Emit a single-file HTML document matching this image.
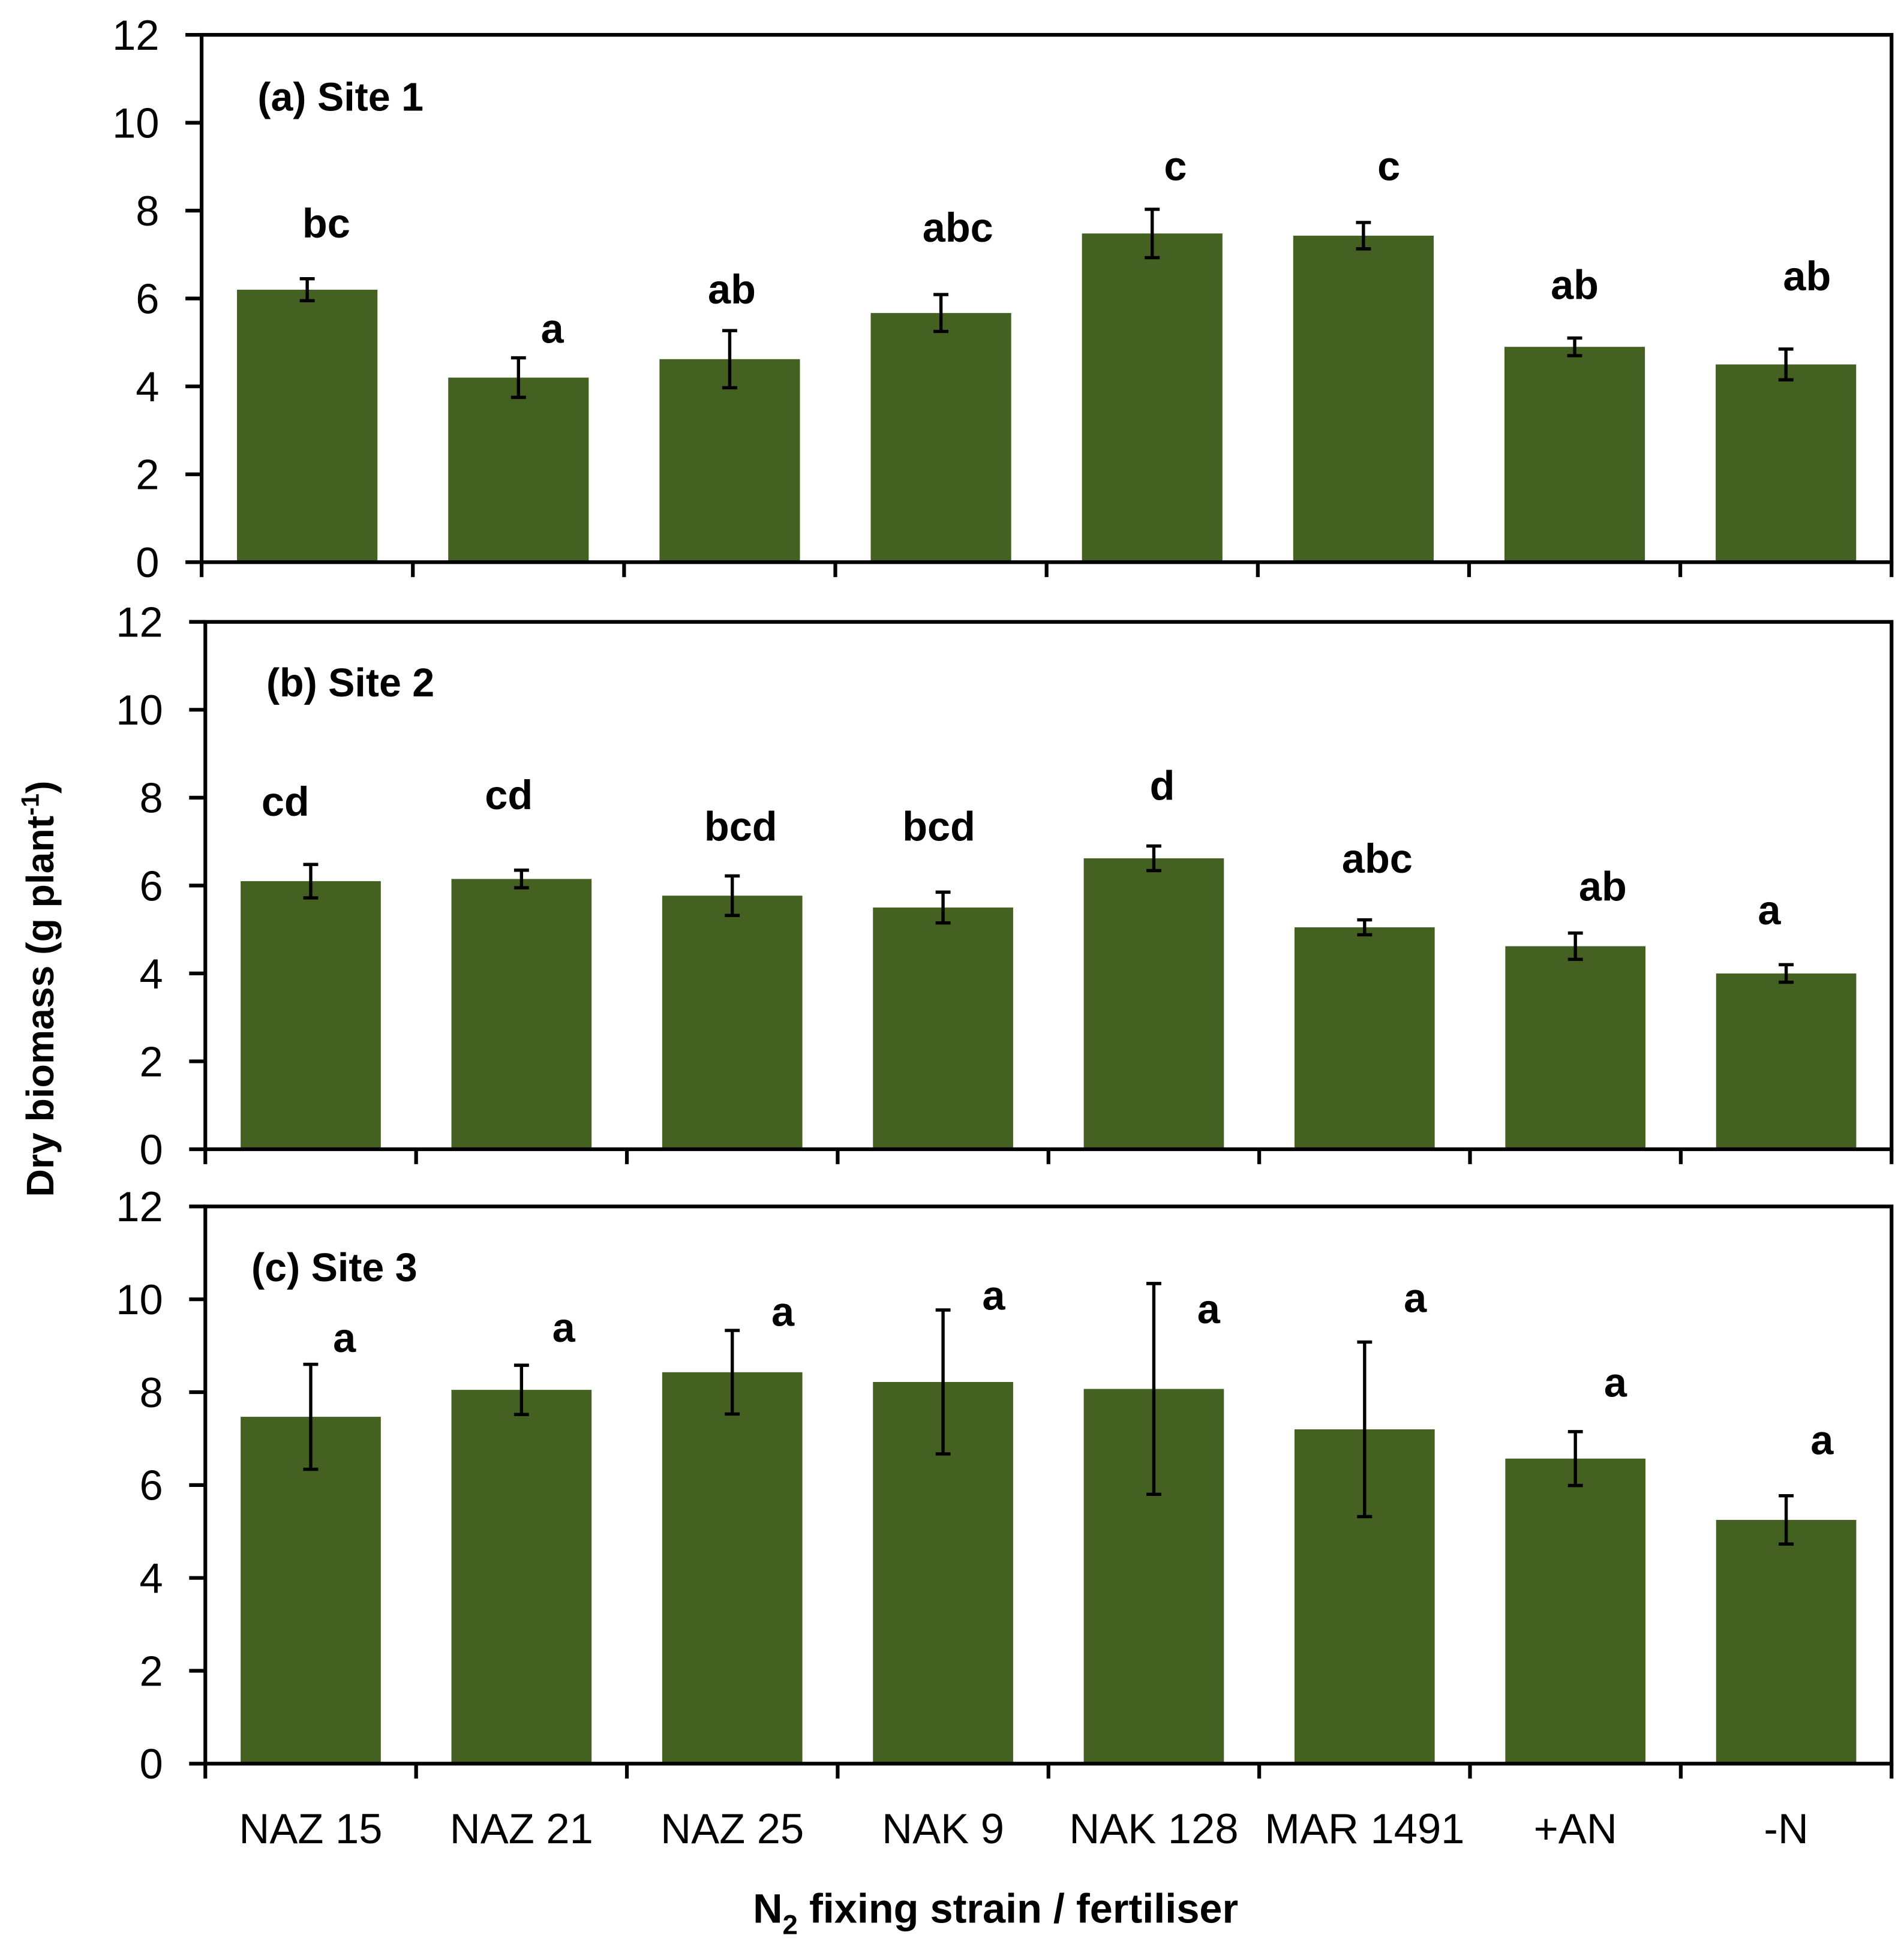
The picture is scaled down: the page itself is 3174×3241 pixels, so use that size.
<!DOCTYPE html>
<html><head><meta charset="utf-8"><style>
html,body{margin:0;padding:0;background:#fff;}
svg{display:block;}
text{font-family:"Liberation Sans",Arial,sans-serif;fill:#000;}
</style></head><body>
<svg id="chart" width="3174" height="3241" viewBox="0 0 1530 1563" preserveAspectRatio="none" xmlns="http://www.w3.org/2000/svg">
<text transform="translate(43,795) rotate(-90)" text-anchor="middle" font-size="31" font-weight="bold">Dry biomass (g plant<tspan dy="-12" font-size="20">-1</tspan><tspan dy="12">)</tspan></text>
<text x="800" y="1546" text-anchor="middle" font-size="33" font-weight="bold">N<tspan dy="9" font-size="22">2</tspan><tspan dy="-9"> fixing strain / fertiliser</tspan></text>
</svg>
<script>
const categories = ["NAZ 15","NAZ 21","NAZ 25","NAK 9","NAK 128","MAR 1491","+AN","-N"];
const yTicks = [0,2,4,6,8,10,12];
const siteAValues = [6.2,4.2,4.62,5.67,7.48,7.43,4.9,4.5];
const siteAErrors = [0.25,0.45,0.65,0.42,0.55,0.3,0.2,0.35];
const siteALetters = ["bc","a","ab","abc","c","c","ab","ab"];
const siteALetterY = [7.7,5.3,6.2,7.6,9.0,9.0,6.3,6.5];
const siteBValues = [6.1,6.15,5.77,5.5,6.62,5.05,4.62,4.0];
const siteBErrors = [0.38,0.2,0.45,0.35,0.28,0.17,0.3,0.2];
const siteBLetters = ["cd","cd","bcd","bcd","d","abc","ab","a"];
const siteBLetterY = [7.9,8.05,7.33,7.33,8.26,6.6,5.97,5.43];
const siteCValues = [7.47,8.05,8.43,8.22,8.07,7.2,6.57,5.25];
const siteCErrors = [1.13,0.53,0.9,1.55,2.27,1.88,0.58,0.52];
const siteCLetters = ["a","a","a","a","a","a","a","a"];
const siteCLetterY = [9.16,9.38,9.72,10.07,9.78,10.02,8.2,6.96];

const NS="http://www.w3.org/2000/svg";
const svg=document.getElementById('chart');
function mk(tag,attrs,parent){const e=document.createElementNS(NS,tag);for(const k in attrs)e.setAttribute(k,attrs[k]);(parent||svg).appendChild(e);return e;}

const panels=[
 {key:"a",title:"(a) Site 1",tx:207,ty:89,left:162,right:1520,top:28,bottom:452,vals:siteAValues,errs:siteAErrors,lets:siteALetters,ly:siteALetterY,ldx:[0.09,0.16,0.01,0.08,0.11,0.12,0.0,0.1],labels:false},
 {key:"b",title:"(b) Site 2",tx:214,ty:560,left:165,right:1520,top:500,bottom:924,vals:siteBValues,errs:siteBErrors,lets:siteBLetters,ly:siteBLetterY,ldx:[-0.12,-0.06,0.04,-0.02,0.04,0.06,0.13,-0.08],labels:false},
 {key:"c",title:"(c) Site 3",tx:202,ty:1030,left:165,right:1520,top:970,bottom:1418,vals:siteCValues,errs:siteCErrors,lets:siteCLetters,ly:siteCLetterY,ldx:[0.16,0.2,0.24,0.24,0.26,0.24,0.19,0.17],labels:true}
];

panels.forEach(p=>{
 const g=mk('g',{});
 
 
 const n=categories.length;
 const cw=(p.right-p.left)/n;
 const y=v=>p.bottom-(v/12)*(p.bottom-p.top);
 const xc=i=>p.left+cw*(i+0.5);
 const bw=cw*0.665;
 p.vals.forEach((v,i)=>{
  const r=mk('rect',{x:xc(i)-bw/2,y:y(v),width:bw,height:p.bottom-y(v),fill:'#446121'},g);
  
  
  const e=p.errs[i];const eg=mk('g',{stroke:'#000','stroke-width':2.6},g);
  
  
  mk('line',{x1:xc(i),x2:xc(i),y1:y(v+e),y2:y(v-e)},eg);
  mk('line',{x1:xc(i)-6,x2:xc(i)+6,y1:y(v+e),y2:y(v+e)},eg);
  mk('line',{x1:xc(i)-6,x2:xc(i)+6,y1:y(v-e),y2:y(v-e)},eg);
  const t=mk('text',{x:xc(i)+p.ldx[i]*cw,y:y(p.ly[i])+11,'text-anchor':'middle','font-size':33,'font-weight':'bold'},g);
  t.textContent=p.lets[i];
  
  
 });
 const fr=mk('rect',{x:p.left,y:p.top,width:p.right-p.left,height:p.bottom-p.top,fill:'none',stroke:'#000','stroke-width':3},g);
 
 
 yTicks.forEach(tv=>{
  mk('line',{x1:p.left-13,x2:p.left,y1:y(tv),y2:y(tv),stroke:'#000','stroke-width':3},g);
  const t=mk('text',{x:p.left-34,y:y(tv)+12,'text-anchor':'end','font-size':34},g);
  t.textContent=tv;
  
  
 });
 for(let i=0;i<=n;i++){
  mk('line',{x1:p.left+cw*i,x2:p.left+cw*i,y1:p.bottom,y2:p.bottom+12,stroke:'#000','stroke-width':3},g);
 }
 const tt=mk('text',{x:p.tx,y:p.ty,'font-size':32,'font-weight':'bold'},g);
 tt.textContent=p.title;
 
 
 if(p.labels){
  categories.forEach((c,i)=>{
   const t=mk('text',{x:xc(i),y:1482,'text-anchor':'middle','font-size':34},g);
   t.textContent=c;
   
   
  });
 }
});
</script>
</body></html>
